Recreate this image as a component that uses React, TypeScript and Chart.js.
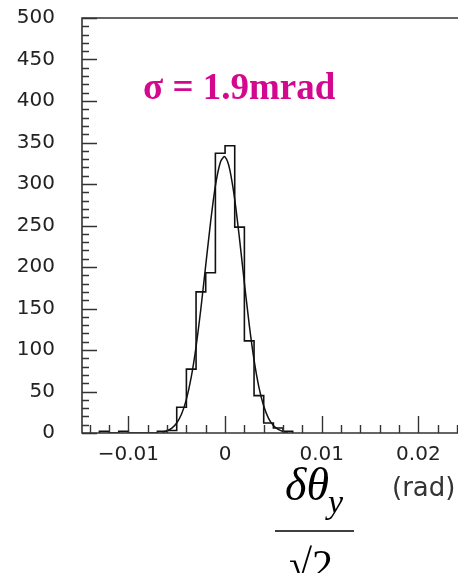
import React, { useEffect, useRef } from "react";
import { Chart, registerables } from "chart.js";

Chart.register(...registerables);

// Histogram bins (lower edges, rad) and counts
const binLow = [
  -0.013, -0.012, -0.011, -0.01, -0.009, -0.008, -0.007, -0.006, -0.005, -0.004,
  -0.003, -0.002, -0.001, 0.0, 0.001, 0.002, 0.003, 0.004, 0.005, 0.006,
];
const binLastHigh = 0.007;
const counts = [2, 0, 2, 0, 0, 0, 2, 3, 31, 77, 170, 193, 337, 346, 248, 111, 45, 12, 6, 2];

// Fitted gaussian curve
const fitX = [
  -0.0065, -0.006, -0.0055, -0.005, -0.0045, -0.004, -0.0035, -0.003, -0.0025, -0.002,
  -0.0015, -0.001, -0.0005, -0.00025, -0.0001, 0.0, 0.00025, 0.0005, 0.001, 0.0015,
  0.002, 0.0025, 0.003, 0.0035, 0.004, 0.0045, 0.005, 0.0055, 0.006, 0.0065,
];
const fitY = [
  1.1, 2.7, 5.9, 12.0, 22.8, 40.5, 67.2, 103.9, 150, 202,
  253.8, 297.7, 325.7, 331.0, 333, 332.5, 327.4, 316.8, 281.6, 233.6,
  180.8, 130.6, 88, 55.3, 32.5, 17.7, 9.1, 4.3, 1.9, 0.8,
];

const yTickValues = [0, 50, 100, 150, 200, 250, 300, 350, 400, 450, 500];
const xTickValues = [-0.01, 0, 0.01, 0.02];
const xTickLabels = ["\u22120.01", "0", "0.01", "0.02"];

const sigmaLabel = "\u03C3 = 1.9mrad";
const unitLabel = "(rad)";

const X_MIN = -0.0148;
const X_MAX = 0.0241;

const framePlugin = {
  id: "framePlugin",
  afterDatasetsDraw(chart: any) {
    const { ctx, chartArea } = chart;
    const xs = chart.scales.x;
    const ys = chart.scales.y;
    const { left, right, top, bottom } = chartArea;
    ctx.save();
    ctx.strokeStyle = "#333";
    ctx.lineWidth = 1.6;
    ctx.beginPath();
    ctx.moveTo(right + 2, top);
    ctx.lineTo(left, top);
    ctx.lineTo(left, bottom);
    ctx.lineTo(right + 2, bottom);
    ctx.stroke();

    // y ticks (inward)
    ctx.lineWidth = 1.4;
    ctx.beginPath();
    for (let v = 0; v <= 500; v += 10) {
      const py = Math.round(ys.getPixelForValue(v)) + 0.5;
      const len = v % 50 === 0 ? 15 : 7;
      ctx.moveTo(left, py);
      ctx.lineTo(left + len, py);
    }
    // x ticks (inward)
    for (let i = -7; i <= 12; i++) {
      const v = i * 0.002;
      const px = Math.round(xs.getPixelForValue(v)) + 0.5;
      if (px < left || px > right) continue;
      ctx.moveTo(px, bottom);
      ctx.lineTo(px, bottom - 8);
    }
    for (const v of xTickValues) {
      const px = Math.round(xs.getPixelForValue(v)) + 0.5;
      ctx.moveTo(px, bottom);
      ctx.lineTo(px, bottom - 17);
    }
    ctx.stroke();
    ctx.restore();
  },
  afterDraw(chart: any) {
    const { ctx } = chart;
    ctx.save();
    // sigma label
    ctx.fillStyle = "#d4078f";
    ctx.font = "bold 37px 'Liberation Serif'";
    ctx.textBaseline = "alphabetic";
    ctx.textAlign = "left";
    ctx.fillText(sigmaLabel, 143, 98.5);

    // axis title: fraction
    ctx.fillStyle = "#000";
    ctx.font = "italic 46px 'Liberation Serif'";
    ctx.fillText("\u03B4\u03B8", 285, 500);
    ctx.font = "italic 34px 'Liberation Serif'";
    ctx.fillText("y", 328, 513);
    ctx.strokeStyle = "#000";
    ctx.lineWidth = 1.6;
    ctx.beginPath();
    ctx.moveTo(275, 531);
    ctx.lineTo(354, 531);
    ctx.stroke();
    ctx.font = "42px 'Liberation Serif'";
    ctx.fillText("\u221A2", 289, 579);

    // unit
    ctx.fillStyle = "#333";
    ctx.font = "26px 'DejaVu Sans'";
    ctx.fillText(unitLabel, 392, 496);
    ctx.restore();
  },
};

export default function App() {
  const canvasRef = useRef<HTMLCanvasElement | null>(null);

  useEffect(() => {
    document.body.style.margin = "0";
    const canvas = canvasRef.current;
    if (!canvas) return;

    const histPoints: { x: number; y: number }[] = [{ x: binLow[0], y: 0 }];
    binLow.forEach((lo, i) => histPoints.push({ x: lo, y: counts[i] }));
    histPoints.push({ x: binLastHigh, y: 0 });

    const fitPoints = fitX.map((x, i) => ({ x, y: fitY[i] }));

    const chart = new Chart(canvas, {
      type: "line",
      data: {
        datasets: [
          {
            data: histPoints,
            stepped: true,
            borderColor: "#111",
            borderWidth: 1.6,
            pointRadius: 0,
            fill: false,
          },
          {
            data: fitPoints,
            borderColor: "#111",
            borderWidth: 1.5,
            pointRadius: 0,
            fill: false,
            cubicInterpolationMode: "monotone",
          },
        ],
      },
      options: {
        responsive: false,
        animation: false,
        layout: { padding: { top: 18, right: 0, left: 0, bottom: 0 } },
        plugins: { legend: { display: false }, tooltip: { enabled: false } },
        scales: {
          x: {
            type: "linear",
            min: X_MIN,
            max: X_MAX,
            grid: { display: false, drawTicks: false },
            border: { display: false },
            afterBuildTicks: (s: any) => {
              s.ticks = xTickValues.map((v) => ({ value: v }));
            },
            afterFit: (s: any) => {
              s.height = 140;
              s.paddingLeft = 0;
              s.paddingRight = 0;
            },
            ticks: {
              autoSkip: false,
              maxRotation: 0,
              padding: 10,
              color: "#222",
              font: { family: "'DejaVu Sans'", size: 20 },
              callback: (v: any) => {
                const idx = xTickValues.findIndex((t) => Math.abs(t - Number(v)) < 1e-9);
                return idx >= 0 ? xTickLabels[idx] : "";
              },
            },
          },
          y: {
            type: "linear",
            min: 0,
            max: 500,
            grid: { display: false, drawTicks: false },
            border: { display: false },
            afterBuildTicks: (s: any) => {
              s.ticks = yTickValues.map((v) => ({ value: v }));
            },
            afterFit: (s: any) => {
              s.width = 82;
              s.paddingTop = 0;
              s.paddingBottom = 0;
            },
            ticks: {
              autoSkip: false,
              padding: 27,
              color: "#222",
              font: { family: "'DejaVu Sans'", size: 20 },
              callback: (v: any) => String(v),
            },
          },
        },
      },
      plugins: [framePlugin],
    } as any);

    return () => chart.destroy();
  }, []);

  return (
    <div style={{ width: 458, height: 573, background: "#fff" }}>
      <canvas ref={canvasRef} width={458} height={573} style={{ display: "block" }} />
    </div>
  );
}
